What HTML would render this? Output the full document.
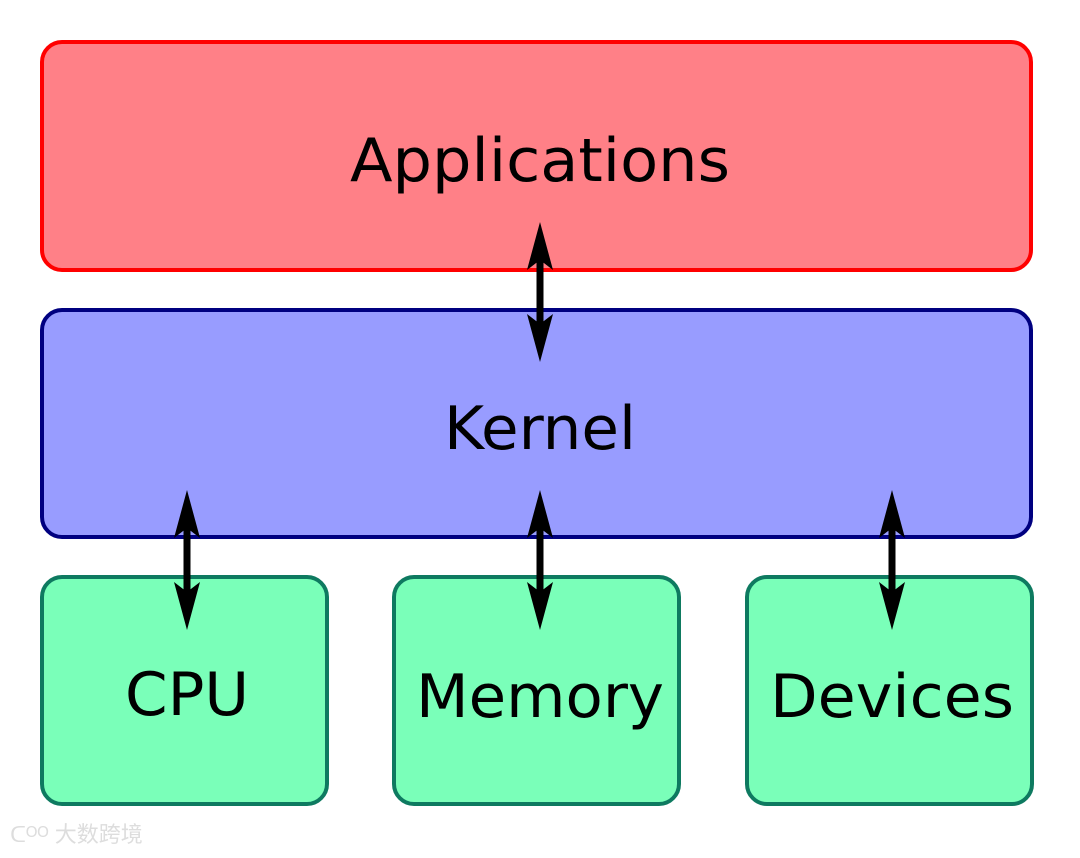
<!DOCTYPE html>
<html><head><meta charset="utf-8"><style>html,body{margin:0;padding:0;background:#fff}</style></head>
<body>
<svg width="1080" height="853" viewBox="0 0 1080 853" xmlns="http://www.w3.org/2000/svg" font-family="DejaVu Sans, Liberation Sans, sans-serif">
<rect x="42" y="42" width="989" height="228" rx="20" fill="#ff8087" stroke="#ff0000" stroke-width="4"/>
<rect x="42" y="310" width="989" height="227" rx="20" fill="#989cff" stroke="#000080" stroke-width="4"/>
<rect x="42" y="577" width="285" height="227" rx="20" fill="#7affb9" stroke="#0e7a60" stroke-width="4"/>
<rect x="394" y="577" width="285" height="227" rx="20" fill="#7affb9" stroke="#0e7a60" stroke-width="4"/>
<rect x="747" y="577" width="285" height="227" rx="20" fill="#7affb9" stroke="#0e7a60" stroke-width="4"/>
<g font-size="60" fill="#000" text-anchor="middle">
<text x="540" y="181" textLength="380" lengthAdjust="spacingAndGlyphs">Applications</text>
<text x="540" y="449" textLength="192" lengthAdjust="spacingAndGlyphs">Kernel</text>
<text x="187" y="715" textLength="124" lengthAdjust="spacingAndGlyphs">CPU</text>
<text x="540" y="717" textLength="248" lengthAdjust="spacingAndGlyphs">Memory</text>
<text x="892" y="717" textLength="244" lengthAdjust="spacingAndGlyphs">Devices</text>
</g>
<g fill="#000" stroke="#000" stroke-width="7">
<line x1="540" y1="240" x2="540" y2="344"/>
<path stroke="none" d="M540,222 L553,270 L540,260 L527,270 Z M540,362 L553,314 L540,324 L527,314 Z"/>
<line x1="187" y1="508" x2="187" y2="612"/>
<path stroke="none" d="M187,490 L200,538 L187,528 L174,538 Z M187,630 L200,582 L187,592 L174,582 Z"/>
<line x1="540" y1="508" x2="540" y2="612"/>
<path stroke="none" d="M540,490 L553,538 L540,528 L527,538 Z M540,630 L553,582 L540,592 L527,582 Z"/>
<line x1="892" y1="508" x2="892" y2="612"/>
<path stroke="none" d="M892,490 L905,538 L892,528 L879,538 Z M892,630 L905,582 L892,592 L879,582 Z"/>
</g>
<text x="10" y="842" font-size="22" fill="#ddd" font-family="Liberation Sans, Noto Sans CJK SC, sans-serif">ᑕᴼᴼ 大数跨境</text>
</svg>
</body></html>
